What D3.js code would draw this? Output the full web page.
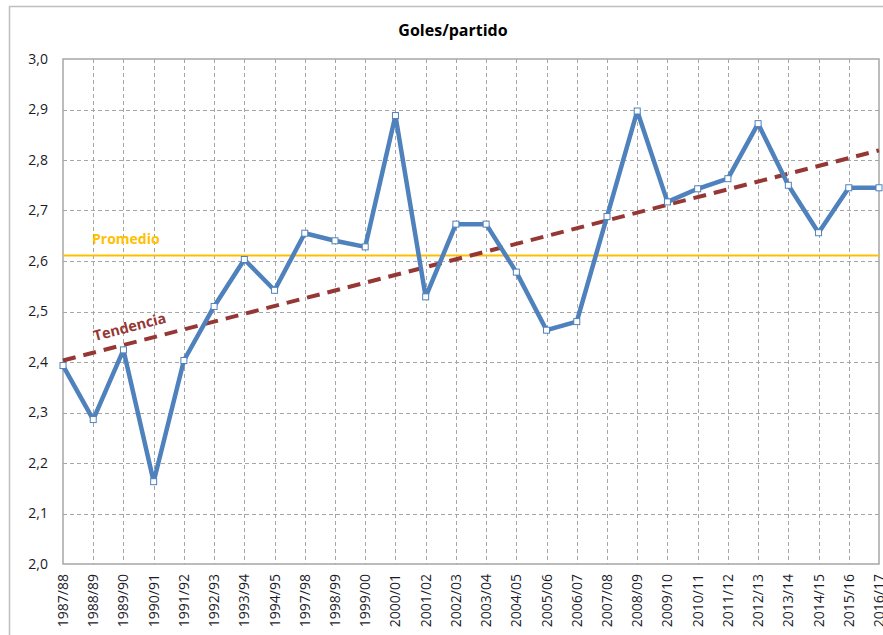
<!DOCTYPE html>
<html>
<head>
<meta charset="utf-8">
<script src="https://cdn.jsdelivr.net/npm/d3@7"></script>
<style>
  body { margin: 0; background: #fff; }
  text { font-family: "Open Sans", "Liberation Sans", sans-serif; }
</style>
</head>
<body>
<div id="chart"></div>
<script>
// temporadas
const seasons = [
  "1987/88", "1988/89", "1989/90", "1990/91", "1991/92", "1992/93", "1993/94",
  "1994/95", "1997/98", "1998/99", "1999/00", "2000/01", "2001/02", "2002/03",
  "2003/04", "2004/05", "2005/06", "2006/07", "2007/08", "2008/09", "2009/10",
  "2010/11", "2011/12", "2012/13", "2013/14", "2014/15", "2015/16", "2016/17"
];

// goles por partido
const golesPartido = [
  2.393, 2.286, 2.424, 2.163, 2.403, 2.510, 2.603,
  2.542, 2.655, 2.640, 2.628, 2.888, 2.529, 2.673,
  2.673, 2.578, 2.463, 2.480, 2.688, 2.897, 2.717,
  2.743, 2.763, 2.872, 2.750, 2.656, 2.745, 2.745
];

const yTicks = [2.0, 2.1, 2.2, 2.3, 2.4, 2.5, 2.6, 2.7, 2.8, 2.9, 3.0];

const width = 883, height = 635;
const margin = { top: 59, right: 4, bottom: 70, left: 63 };

const svg = d3.select("#chart").append("svg")
  .attr("width", width)
  .attr("height", height);

// outer chart frame
svg.append("rect")
  .attr("x", 9.5).attr("y", 6.5)
  .attr("width", 900).attr("height", 700)
  .attr("fill", "#fff")
  .attr("stroke", "#BFBFBF")
  .attr("stroke-width", 1.5);

const x = d3.scalePoint()
  .domain(seasons)
  .range([margin.left, width - margin.right]);

const y = d3.scaleLinear()
  .domain([2.0, 3.0])
  .range([height - margin.bottom - 1, margin.top]);

const fmt = d => d.toFixed(1).replace(".", ",");

// grid
svg.append("g")
  .selectAll("line")
  .data(yTicks.slice(1, -1))
  .join("line")
  .attr("x1", x.range()[0]).attr("x2", x.range()[1])
  .attr("y1", d => Math.round(y(d)) + 0.5).attr("y2", d => Math.round(y(d)) + 0.5)
  .attr("stroke", "#A6A6A6")
  .attr("stroke-dasharray", "4,3");

svg.append("g")
  .selectAll("line")
  .data(seasons.slice(1, -1))
  .join("line")
  .attr("x1", d => Math.round(x(d)) + 0.5).attr("x2", d => Math.round(x(d)) + 0.5)
  .attr("y1", y(3.0)).attr("y2", y(2.0))
  .attr("stroke", "#A6A6A6")
  .attr("stroke-dasharray", "4,3");

// plot border
svg.append("rect")
  .attr("x", x.range()[0]).attr("y", y(3.0))
  .attr("width", x.range()[1] - x.range()[0])
  .attr("height", y(2.0) - y(3.0))
  .attr("fill", "none")
  .attr("stroke", "#A6A6A6")
  .attr("stroke-width", 1.5);

// y axis labels
const yAxis = svg.append("g")
  .attr("transform", `translate(${x.range()[0]},0)`)
  .call(d3.axisLeft(y).tickValues(yTicks).tickFormat(fmt).tickSize(0).tickPadding(15));
yAxis.select(".domain").remove();
yAxis.selectAll("text")
  .attr("font-size", 14)
  .attr("font-family", "Open Sans, sans-serif")
  .attr("fill", "#1a1a2a");

// x axis labels
svg.append("g")
  .selectAll("text")
  .data(seasons)
  .join("text")
  .attr("transform", d => `translate(${x(d)},${y(2.0) + 10}) rotate(-90)`)
  .attr("text-anchor", "end")
  .attr("dy", "0.36em")
  .attr("font-size", 14)
  .attr("fill", "#1a1a2a")
  .text(d => d);

// promedio
const mean = d3.mean(golesPartido);
svg.append("line")
  .attr("x1", x.range()[0]).attr("x2", x.range()[1])
  .attr("y1", y(mean)).attr("y2", y(mean))
  .attr("stroke", "#FFC000")
  .attr("stroke-width", 2);

svg.append("text")
  .attr("x", 92).attr("y", y(mean) - 11)
  .attr("font-size", 14)
  .attr("font-weight", "bold")
  .attr("fill", "#FFC000")
  .text("Promedio");

// tendencia (regresion lineal)
const idx = golesPartido.map((d, i) => i);
const mx = d3.mean(idx), my = mean;
const slope = d3.sum(idx, i => (i - mx) * (golesPartido[i] - my)) / d3.sum(idx, i => (i - mx) * (i - mx));
const intercept = my - slope * mx;
const n = seasons.length - 1;

svg.append("line")
  .attr("x1", x(seasons[0])).attr("y1", y(intercept))
  .attr("x2", x(seasons[n])).attr("y2", y(intercept + slope * n))
  .attr("stroke", "#953735")
  .attr("stroke-width", 4)
  .attr("stroke-dasharray", "13,8");

const ang = Math.atan2(y(intercept + slope * n) - y(intercept), x(seasons[n]) - x(seasons[0])) * 180 / Math.PI;
svg.append("text")
  .attr("transform", `translate(95,341) rotate(${ang})`)
  .attr("font-size", 14.5)
  .attr("font-weight", "bold")
  .attr("fill", "#953735")
  .text("Tendencia");

// serie
svg.append("path")
  .datum(golesPartido)
  .attr("fill", "none")
  .attr("stroke", "#4F81BD")
  .attr("stroke-width", 4.5)
  .attr("stroke-linejoin", "round")
  .attr("d", d3.line()
    .x((d, i) => x(seasons[i]))
    .y(d => y(d)));

svg.append("g")
  .selectAll("rect")
  .data(golesPartido)
  .join("rect")
  .attr("x", (d, i) => x(seasons[i]) - 3)
  .attr("y", d => y(d) - 3)
  .attr("width", 6).attr("height", 6)
  .attr("fill", "#fff")
  .attr("stroke", "#4F81BD")
  .attr("stroke-width", 1);

// titulo
svg.append("text")
  .attr("x", 453).attr("y", 36)
  .attr("text-anchor", "middle")
  .attr("font-size", 16)
  .attr("font-weight", "bold")
  .attr("fill", "#000")
  .text("Goles/partido");
</script>
</body>
</html>
